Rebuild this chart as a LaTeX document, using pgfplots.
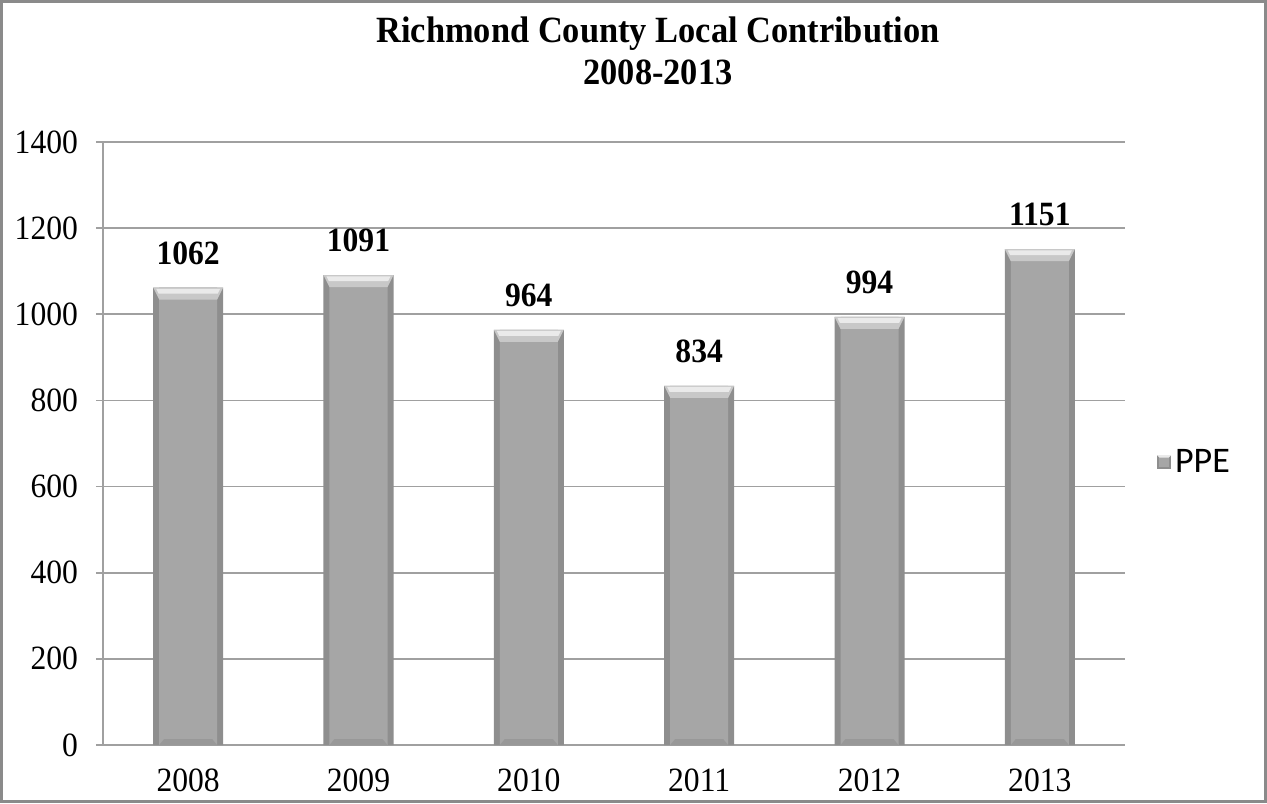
\documentclass[border=0pt]{standalone}
\usepackage{fontspec}
\setmainfont{Liberation Serif}[FakeStretch=0.93]
\newfontfamily\legendfont{Carlito}
\usepackage{pgfplots}
\pgfplotsset{compat=1.18}
\usepackage{pgfplotstable}

\definecolor{barfill}{HTML}{A6A6A6}
\definecolor{barside}{HTML}{8E8E8E}
\definecolor{barlight}{HTML}{EAEAEA}
\colorlet{barmid}{barlight!50!barfill}
\colorlet{barlow}{barside!60!barfill}
\definecolor{gridgray}{HTML}{A0A0A0}
\definecolor{framegray}{HTML}{8A8A8A}

\pgfplotstableread{
x year value base
0 2008 1062 0
1 2009 1091 0
2 2010 964 0
3 2011 834 0
4 2012 994 0
5 2013 1151 0
}\ppe

% light bevel along the top edge of a 35pt bar
\pgfdeclareplotmark{bevel}{%
  \pgfsetfillcolor{barmid}%
  \pgfpathmoveto{\pgfpoint{-17.5pt}{0pt}}%
  \pgfpathlineto{\pgfpoint{17.5pt}{0pt}}%
  \pgfpathlineto{\pgfpoint{14.5pt}{-6pt}}%
  \pgfpathlineto{\pgfpoint{-14.5pt}{-6pt}}%
  \pgfpathclose
  \pgfusepathqfill
  \pgfsetfillcolor{barlight}%
  \pgfpathmoveto{\pgfpoint{-16pt}{-0.6pt}}%
  \pgfpathlineto{\pgfpoint{16pt}{-0.6pt}}%
  \pgfpathlineto{\pgfpoint{14.8pt}{-3pt}}%
  \pgfpathlineto{\pgfpoint{-14.8pt}{-3pt}}%
  \pgfpathclose
  \pgfusepathqfill
}
% darker bevel along the foot of a bar
\pgfdeclareplotmark{bevelfoot}{%
  \pgfsetfillcolor{barlow}%
  \pgfpathmoveto{\pgfpoint{-14.5pt}{0pt}}%
  \pgfpathlineto{\pgfpoint{14.5pt}{0pt}}%
  \pgfpathlineto{\pgfpoint{12pt}{3pt}}%
  \pgfpathlineto{\pgfpoint{-12pt}{3pt}}%
  \pgfpathclose
  \pgfusepathqfill
}

\begin{document}
\begin{tikzpicture}
% page size and outer frame
\path[use as bounding box] (0,0) rectangle (633.5pt,401.5pt);
\draw[framegray, line width=1.5pt] (0.75pt,0.75pt) rectangle (632.75pt,400.75pt);

\node[align=center, font=\bfseries\fontsize{18.5}{21}\selectfont] at (329pt,376pt)
  {Richmond County Local Contribution\\2008-2013};

\begin{axis}[
  at={(51.5pt,29pt)}, anchor=south west,
  scale only axis, width=511pt, height=301.5pt,
  xmin=-0.5, xmax=5.5, ymin=0, ymax=1400,
  axis lines=left,
  axis line style={draw=gridgray, line width=0.8pt, -},
  ytick={0,200,...,1400},
  ymajorgrids,
  grid style={draw=gridgray, line width=0.8pt},
  tick align=outside,
  major tick length=3.5pt,
  tick style={draw=gridgray, line width=0.8pt},
  xtick={0,...,5},
  xticklabels={2008,2009,2010,2011,2012,2013},
  xtick style={draw=none},
  extra x ticks={-0.5,0.5,...,5.5},
  extra x tick labels={},
  extra x tick style={major tick length=5pt, tick style={draw=gridgray, line width=0.8pt}},
  ticklabel style={font=\fontsize{17}{17}\selectfont},
  x tick label style={yshift=-5pt},
  y tick label style={xshift=-5.5pt},
  /pgf/number format/assume math mode=true,
  /pgf/number format/1000 sep={},
  legend style={at={(1.031,0.469)}, anchor=west, draw=none, fill=none,
    inner sep=0pt, font=\legendfont\fontsize{18}{18}\selectfont},
  legend image code/.code={
    \fill[barside] (-1pt,-3.5pt) rectangle (6pt,3.5pt);
    \fill[barfill] (0.2pt,-2.3pt) rectangle (4.8pt,2.6pt);
    \fill[barlight] (-1pt,3.5pt) -- (6pt,3.5pt) -- (4.8pt,2.3pt) -- (0.2pt,2.3pt) -- cycle;
  },
]
% bar body with darker side edges
\addplot[ybar, bar width=35pt, bar shift=0pt, fill=barside, draw=none]
  table[x=x, y=value] {\ppe};
\addlegendentry{PPE}
\addplot[ybar, bar width=29pt, bar shift=0pt, fill=barfill, draw=none, forget plot]
  table[x=x, y=value] {\ppe};
% foot bevel
\addplot[only marks, mark=bevelfoot, forget plot] table[x=x, y=base] {\ppe};
% top bevel and value labels
\addplot[only marks, mark=bevel, forget plot,
  nodes near coords,
  every node near coord/.style={font=\bfseries\fontsize{17}{17}\selectfont, text=black, yshift=8pt},
] table[x=x, y=value] {\ppe};
\end{axis}
\end{tikzpicture}
\end{document}
